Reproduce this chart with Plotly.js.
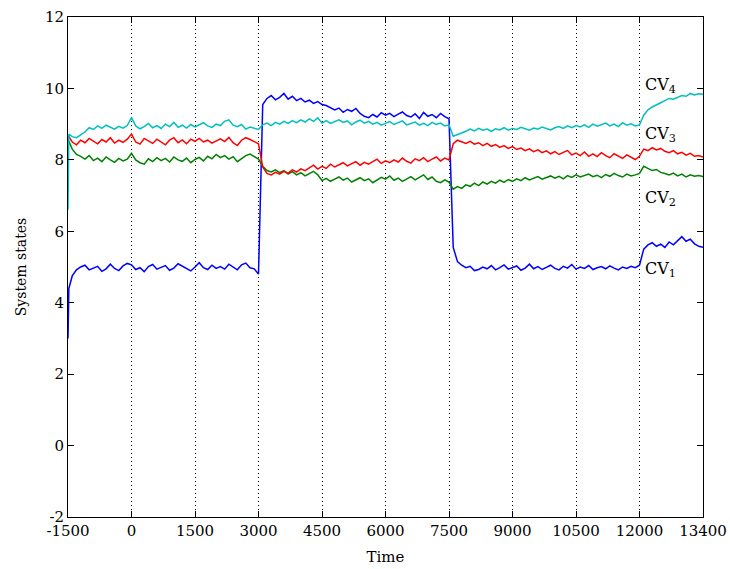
<!DOCTYPE html>
<html>
<head>
<meta charset="utf-8">
<script src="https://cdn.plot.ly/plotly-3.0.1.min.js"></script>
<style>html,body{margin:0;padding:0;background:#fff;}#chart{width:730px;height:569px;}</style>
</head>
<body>
<div id="chart"></div>
<script>
// sample times
const time = [-1500, -1480,
  -1400, -1300, -1200, -1100, -1000, -900, -800, -700, -600, -500,
  -400, -300, -200, -100, 0, 100, 200, 300, 400, 500,
  600, 700, 800, 900, 1000, 1100, 1200, 1300, 1400, 1500,
  1600, 1700, 1800, 1900, 2000, 2100, 2200, 2300, 2400, 2500,
  2600, 2700, 2800, 2900, 3000, 3100, 3200, 3300, 3400, 3500,
  3600, 3700, 3800, 3900, 4000, 4100, 4200, 4300, 4400, 4500,
  4600, 4700, 4800, 4900, 5000, 5100, 5200, 5300, 5400, 5500,
  5600, 5700, 5800, 5900, 6000, 6100, 6200, 6300, 6400, 6500,
  6600, 6700, 6800, 6900, 7000, 7100, 7200, 7300, 7400, 7500,
  7600, 7700, 7800, 7900, 8000, 8100, 8200, 8300, 8400, 8500,
  8600, 8700, 8800, 8900, 9000, 9100, 9200, 9300, 9400, 9500,
  9600, 9700, 9800, 9900, 10000, 10100, 10200, 10300, 10400, 10500,
  10600, 10700, 10800, 10900, 11000, 11100, 11200, 11300, 11400, 11500,
  11600, 11700, 11800, 11900, 12000, 12100, 12200, 12300, 12400, 12500,
  12600, 12700, 12800, 12900, 13000, 13100, 13200, 13300, 13400, 13500];

const cv1 = [3.0, 4.4,
  4.75, 4.92, 5.00, 5.05, 4.92, 4.97, 5.02, 4.88, 4.95, 5.08,
  4.96, 4.90, 5.03, 5.10, 5.06, 4.93, 4.98, 4.87, 5.01, 5.07,
  4.94, 4.99, 5.04, 4.91, 4.97, 5.09, 5.02, 4.95, 4.89, 5.00,
  5.12, 4.98, 4.93, 5.05, 4.96, 5.01, 4.94, 5.08, 5.00, 4.92,
  5.06, 5.11, 4.98, 4.95, 4.80, 9.55, 9.72, 9.80, 9.68, 9.75,
  9.86, 9.70, 9.78, 9.66, 9.72, 9.62, 9.67, 9.58, 9.63, 9.55,
  9.52, 9.47, 9.40, 9.45, 9.33, 9.41, 9.36, 9.44, 9.30, 9.22,
  9.18, 9.27, 9.20, 9.32, 9.25, 9.30, 9.21, 9.28, 9.34, 9.24,
  9.20, 9.29, 9.16, 9.33, 9.22, 9.27, 9.18, 9.30, 9.21, 9.15,
  5.55, 5.15, 5.05, 4.98, 5.02, 4.90, 4.93, 5.00, 4.95, 5.04,
  4.92, 4.98, 5.06, 4.94, 4.99, 5.03, 4.91, 4.97, 5.08, 4.95,
  5.01, 4.93, 4.99, 5.05, 4.96, 4.92, 5.02, 4.97, 5.07, 4.94,
  5.00, 4.96, 5.04, 4.93, 4.98, 5.01, 4.95, 5.03, 4.97, 4.92,
  5.00, 4.96, 5.02, 4.98, 5.05, 5.50, 5.62, 5.68, 5.58, 5.64,
  5.55, 5.70, 5.62, 5.75, 5.85, 5.72, 5.78, 5.65, 5.58, 5.55];

const cv2 = [8.58, 8.52,
  8.30, 8.15, 8.10, 8.02, 8.12, 7.98, 8.05, 7.95, 8.08, 8.00,
  7.93, 8.04, 7.97, 8.02, 8.18, 8.00, 7.92, 7.88, 8.03, 7.95,
  8.06, 7.98, 8.04, 7.94, 8.08, 8.00, 7.96, 8.05, 7.92, 8.01,
  8.07, 7.97, 8.10, 8.03, 8.15, 8.06, 8.12, 8.02, 8.09, 7.95,
  8.04, 8.12, 8.16, 8.08, 8.02, 7.82, 7.70, 7.66, 7.72, 7.64,
  7.70, 7.60, 7.67, 7.58, 7.64, 7.55, 7.62, 7.68, 7.58, 7.42,
  7.48, 7.40, 7.46, 7.52, 7.43, 7.49, 7.38, 7.45, 7.50, 7.42,
  7.47, 7.36, 7.44, 7.51, 7.46, 7.55, 7.43, 7.49, 7.40, 7.47,
  7.53, 7.44, 7.50, 7.58, 7.45, 7.52, 7.40, 7.36, 7.44, 7.38,
  7.18, 7.25, 7.20, 7.30, 7.26, 7.35, 7.28, 7.38, 7.32, 7.40,
  7.35, 7.43, 7.37, 7.45, 7.40, 7.47, 7.42, 7.50, 7.44, 7.48,
  7.53, 7.46, 7.51, 7.55, 7.49, 7.54, 7.47, 7.56, 7.51, 7.58,
  7.52, 7.55, 7.60, 7.53, 7.57, 7.50, 7.59, 7.54, 7.62, 7.56,
  7.52, 7.60, 7.55, 7.58, 7.62, 7.82, 7.76, 7.70, 7.73, 7.65,
  7.62, 7.58, 7.63, 7.55, 7.60, 7.52, 7.58, 7.54, 7.56, 7.53];

const cv3 = [8.62, 8.65,
  8.50, 8.42, 8.55, 8.48, 8.60, 8.52, 8.45, 8.57, 8.50, 8.62,
  8.47, 8.55, 8.49, 8.58, 8.72, 8.50, 8.44, 8.60, 8.53, 8.46,
  8.58, 8.50, 8.42, 8.55, 8.62, 8.48, 8.56, 8.45, 8.58, 8.52,
  8.60, 8.50, 8.55, 8.47, 8.53, 8.59, 8.51, 8.63, 8.48, 8.40,
  8.55, 8.62, 8.57, 8.52, 8.45, 7.80, 7.62, 7.58, 7.65, 7.60,
  7.68, 7.63, 7.72, 7.66, 7.75, 7.70, 7.78, 7.85, 7.74, 7.82,
  7.76, 7.88, 7.80, 7.86, 7.92, 7.83, 7.89, 7.95, 7.85, 7.93,
  7.88, 7.96, 8.02, 7.90, 7.97, 7.92, 8.00, 7.94, 8.05, 7.96,
  7.91, 8.03, 7.98, 8.06, 7.95, 8.02, 8.08, 7.97, 8.05, 8.00,
  8.45, 8.55, 8.50, 8.46, 8.52, 8.44, 8.48, 8.40, 8.46, 8.38,
  8.43, 8.35, 8.40, 8.32, 8.37, 8.29, 8.33, 8.26, 8.31, 8.23,
  8.28, 8.20, 8.25, 8.17, 8.23, 8.15, 8.21, 8.26, 8.14, 8.19,
  8.12, 8.22, 8.10, 8.17, 8.09, 8.20, 8.12, 8.06, 8.17, 8.10,
  8.04, 8.14, 8.07, 8.01, 8.10, 8.30, 8.26, 8.34, 8.28, 8.32,
  8.24, 8.20, 8.26, 8.17, 8.21, 8.13, 8.18, 8.10, 8.12, 8.08];

const cv4 = [6.6, 8.72,
  8.65, 8.62, 8.70, 8.78, 8.90, 8.85, 8.95, 8.88, 8.97, 8.91,
  8.86, 8.94, 8.89, 8.96, 9.18, 8.95, 8.87, 8.93, 9.02, 8.90,
  8.96, 8.88, 9.00, 8.93, 9.05, 8.91, 8.97, 8.89, 8.99, 8.92,
  8.98, 9.04, 8.95, 8.91, 9.00, 8.96, 9.08, 9.12, 8.97, 8.93,
  8.99, 8.86, 8.92, 8.88, 8.85, 8.98, 9.03, 8.96, 9.05, 9.00,
  9.08, 9.02, 9.10, 9.04, 9.12, 9.06, 9.15, 9.08, 9.18, 9.03,
  9.10, 9.02, 9.07, 9.12, 9.05, 9.09, 8.98, 9.06, 9.11, 9.03,
  9.08, 9.00, 9.05, 8.97, 9.02, 9.07, 8.99, 9.04, 9.09, 8.98,
  9.03, 9.06, 8.97, 9.02, 8.96, 9.05, 8.99, 9.03, 8.95, 8.98,
  8.66, 8.70, 8.76, 8.80, 8.86, 8.81, 8.88, 8.83, 8.86, 8.80,
  8.87, 8.84, 8.90, 8.83, 8.88, 8.85, 8.91, 8.86, 8.83, 8.89,
  8.86, 8.92, 8.87, 8.84, 8.90, 8.93, 8.88, 8.95, 8.90, 8.96,
  8.92, 8.98, 8.91, 9.00, 8.94, 8.99, 9.03, 8.95, 9.00, 8.93,
  9.04, 8.97, 9.01, 8.95, 8.98, 9.25, 9.40, 9.48, 9.55, 9.60,
  9.66, 9.72, 9.70, 9.76, 9.80, 9.78, 9.86, 9.82, 9.85, 9.84];

const seriesNames = ['CV1', 'CV2', 'CV3', 'CV4'];
const seriesColors = ['#0000ff', '#008000', '#ff0000', '#00bfbf'];
const xTickVals = [-1500, 0, 1500, 3000, 4500, 6000, 7500, 9000, 10500, 12000, 13500];
const xTickText = ['-1500', '0', '1500', '3000', '4500', '6000', '7500', '9000', '10500', '12000', '13400'];
const yTickVals = [-2, 0, 2, 4, 6, 8, 10, 12];
const yTickText = ['-2', '0', '2', '4', '6', '8', '10', '12'];
const labelText = ['CV<sub>1</sub>', 'CV<sub>2</sub>', 'CV<sub>3</sub>', 'CV<sub>4</sub>'];
const labelY = [4.92, 6.93, 8.70, 10.07];

const FONT = 'DejaVu Serif, serif';
const values = [cv1, cv2, cv3, cv4];
const traces = values.map((v, i) => ({
  x: time, y: v, type: 'scatter', mode: 'lines', name: seriesNames[i],
  line: {color: seriesColors[i], width: 1.5}
}));

const annotations = labelText.map((t, i) => ({
  x: 12080, y: labelY[i], xref: 'x', yref: 'y', text: t, showarrow: false,
  xanchor: 'left', yanchor: 'middle', font: {family: FONT, size: 16, color: '#000'}
}));

const layout = {
  width: 730, height: 569,
  margin: {l: 68, r: 27, t: 17, b: 52},
  paper_bgcolor: '#fff', plot_bgcolor: '#fff',
  showlegend: false,
  font: {family: FONT, size: 15, color: '#000'},
  xaxis: {
    range: [-1500, 13500], tickmode: 'array', tickvals: xTickVals, ticktext: xTickText,
    showgrid: true, gridcolor: '#000', gridwidth: 1, griddash: '1px,3px',
    zeroline: false, showline: true, linecolor: '#000', linewidth: 1, mirror: 'ticks',
    ticks: 'inside', ticklen: 6, tickcolor: '#000',
    tickfont: {family: FONT, size: 15, color: '#000'},
    title: {text: 'Time', font: {family: FONT, size: 15, color: '#000'}, standoff: 12}
  },
  yaxis: {
    range: [-2, 12], tickmode: 'array', tickvals: yTickVals, ticktext: yTickText,
    showgrid: false, zeroline: false, showline: true, linecolor: '#000', linewidth: 1, mirror: 'ticks',
    ticks: 'inside', ticklen: 6, tickcolor: '#000',
    tickfont: {family: FONT, size: 15, color: '#000'},
    title: {text: 'System states', font: {family: FONT, size: 14, color: '#000'}, standoff: 15}
  },
  annotations: annotations
};

Plotly.newPlot('chart', traces, layout, {displayModeBar: false, staticPlot: true});
</script>
</body>
</html>
